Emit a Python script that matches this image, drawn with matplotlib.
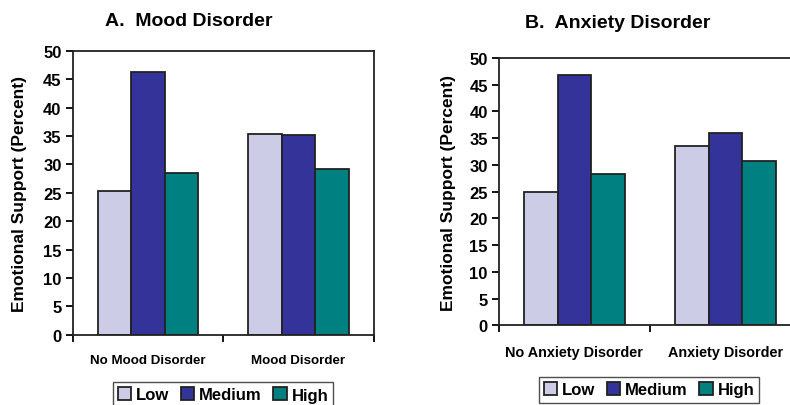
import matplotlib.pyplot as plt
import numpy as np

plt.rcParams['font.family'] = ['Liberation Sans', 'DejaVu Sans']
plt.rcParams['font.weight'] = 'bold'

levels = ['Low', 'Medium', 'High']
colors = ['#CCCCE6', '#333399', '#008080']

mood_groups = ['No Mood Disorder', 'Mood Disorder']
mood_low = [25.3, 35.4]
mood_medium = [46.2, 35.2]
mood_high = [28.5, 29.2]

anx_groups = ['No Anxiety Disorder', 'Anxiety Disorder']
anx_low = [25.0, 33.5]
anx_medium = [46.8, 35.9]
anx_high = [28.3, 30.7]

yticks = [0, 5, 10, 15, 20, 25, 30, 35, 40, 45, 50]

W, H = 790, 406
fig = plt.figure(figsize=(W / 100, H / 100), dpi=100)
axA = fig.add_axes([0.092, 0.173, 0.381, 0.6995])
axB = fig.add_axes([0.6316, 0.196, 0.382, 0.659])


def draw(ax, groups, series, title, title_xy, xlab_size, ylab_x, leg_x, leg_top):
    x = np.arange(len(groups))
    w = 1 / 4.5
    bars = []
    for i, (vals, c) in enumerate(zip(series, colors)):
        b = ax.bar(x + (i - 1) * w, vals, w, color=c, edgecolor='#222222',
                   linewidth=1.3, label=levels[i])
        bars.append(b)
    ax.set_xlim(-0.5, len(groups) - 0.5)
    ax.set_ylim(0, 50)
    ax.set_yticks(yticks)
    ax.set_yticklabels([str(t) for t in yticks], fontsize=12, fontweight='bold')
    # category labels between boundary ticks
    ax.set_xticks(np.arange(-0.5, len(groups)))
    ax.set_xticklabels([])
    ax.set_xticks(x, minor=True)
    ax.set_xticklabels(groups, minor=True, fontsize=xlab_size, fontweight='bold')
    ax.tick_params(axis='x', which='minor', length=0, pad=14)
    ax.tick_params(axis='x', which='major', length=5, width=1.3, direction='out')
    ax.tick_params(axis='y', length=5, width=1.3, direction='out', pad=3)
    for s in ax.spines.values():
        s.set_linewidth(1.3)
        s.set_color('#222222')
    fig.text(ylab_x / W, 0.5 * (ax.get_position().y0 + ax.get_position().y1),
             'Emotional Support (Percent)', rotation=90, fontsize=12.5,
             fontweight='bold', ha='center', va='center')
    fig.text(title_xy[0] / W, 1 - title_xy[1] / H, title, fontsize=14,
             fontweight='bold', ha='center', va='center')
    fig.legend(handles=bars, labels=levels, loc='upper center',
               bbox_to_anchor=(leg_x / W, 1 - leg_top / H), ncol=3, frameon=True,
               fancybox=False, edgecolor='#222222',
               prop={'weight': 'bold', 'size': 12},
               handlelength=0.8, handleheight=0.8, handletextpad=0.3,
               columnspacing=0.7, borderpad=0.3)


draw(axA, mood_groups, [mood_low, mood_medium, mood_high],
     'A.  Mood Disorder', (189, 22), 9.6, 20, 223, 375)
draw(axB, anx_groups, [anx_low, anx_medium, anx_high],
     'B.  Anxiety Disorder', (618, 24), 10.4, 448, 649, 370)

fig.savefig('out.png', dpi=100)
